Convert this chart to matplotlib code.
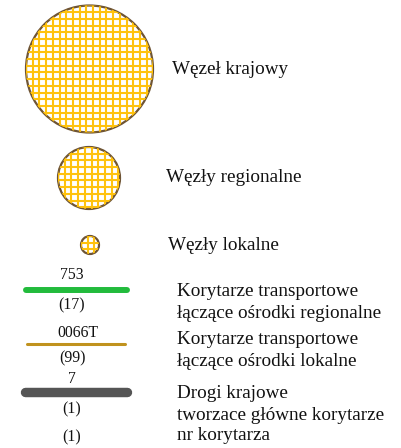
import matplotlib
matplotlib.use("Agg")
import matplotlib.pyplot as plt
import numpy as np
from matplotlib.patches import Circle

plt.rcParams['font.family'] = ['Liberation Serif', 'DejaVu Serif']

node_labels = ["Węzeł krajowy", "Węzły regionalne", "Węzły lokalne"]
node_radius = [63.5, 31, 9]

line_top_labels = ["753", "0066T", "7"]
line_bottom_labels = ["(17)", "(99)", "(1)"]
line_desc = [["Korytarze transportowe", "łączące ośrodki regionalne"],
             ["Korytarze transportowe", "łączące ośrodki lokalne"],
             ["Drogi krajowe", "tworzace główne korytarze", "nr korytarza"]]
extra_label = "(1)"

W, H = 401, 448
fig = plt.figure(figsize=(W / 100, H / 100), dpi=100)
ax = fig.add_axes([0, 0, 1, 1])
ax.set_xlim(0, W)
ax.set_ylim(H, 0)
ax.axis('off')

node_cx = [89.5, 89, 90]
node_cy = [69, 178, 245]
node_tx = [172, 166, 168]
fs = 13.8
sfs = 11.3
grid_step = 6.7
for lab, r, cx, cy, tx in zip(node_labels, node_radius, node_cx, node_cy, node_tx):
    clip = Circle((cx, cy), r, facecolor='white', edgecolor='none', lw=0)
    ax.add_patch(clip)
    offs = np.arange(-r, r + grid_step, grid_step)
    vl = ax.vlines(cx + offs, cy - r, cy + r, colors='#ffc20e', lw=1.5)
    hl = ax.hlines(cy + offs, cx - r, cx + r, colors='#ffc20e', lw=1.5)
    vl.set_clip_path(clip)
    hl.set_clip_path(clip)
    ax.add_patch(Circle((cx, cy), r, facecolor='none', edgecolor='#6e5434', lw=1.6))
    ax.text(tx, cy, lab, fontsize=fs, va='center', ha='left', color='#111111')

line_y = [290, 344, 392]
line_x0 = [26, 27, 25]
line_x1 = [127, 125, 127]
line_colors = ['#22bb3c', '#c0921e', '#555555']
line_w = [4.3, 2.2, 6.8]
top_y = [275, 333, 379]
top_x = [72, 78, 72]
bot_y = [305, 358, 409]
desc_y = [[292, 313], [339, 361], [393, 415, 436]]
for i in range(3):
    ax.plot([line_x0[i], line_x1[i]], [line_y[i], line_y[i]], color=line_colors[i],
            lw=line_w[i], solid_capstyle='round')
    ax.text(top_x[i], top_y[i], line_top_labels[i], fontsize=sfs, ha='center',
            va='center', color='#111111')
    ax.text(72, bot_y[i], line_bottom_labels[i], fontsize=sfs, ha='center',
            va='center', color='#111111')
    for t, y in zip(line_desc[i], desc_y[i]):
        ax.text(177, y, t, fontsize=fs, ha='left', va='center', color='#111111')
ax.text(72, 437, extra_label, fontsize=sfs, ha='center', va='center', color='#111111')

fig.savefig("out.png", dpi=100)
